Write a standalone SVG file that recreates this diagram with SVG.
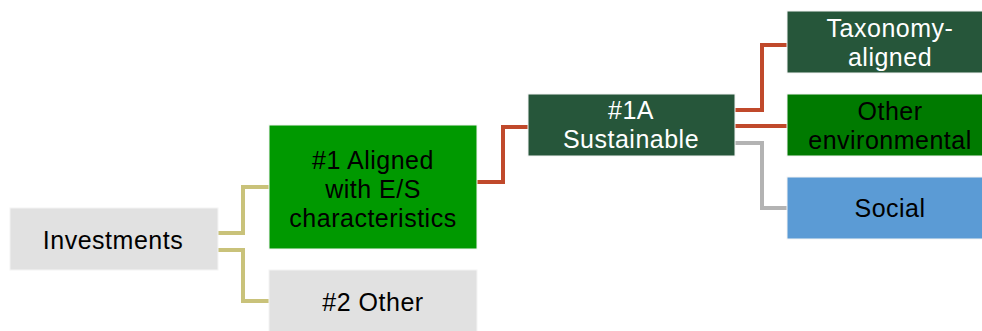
<svg xmlns="http://www.w3.org/2000/svg" width="982" height="331" viewBox="0 0 982 331">
<style>
.box{stroke:#f4f4f4;stroke-width:1}
text{font-family:"Liberation Sans",Arial,sans-serif;font-size:25px;letter-spacing:0.5px;text-anchor:middle}
.dark{fill:#ffffff}
.blk{fill:#000000}
.c{fill:none;stroke-width:4}
.k{stroke:#c9c27a}
.r{stroke:#c0492b}
.g{stroke:#b3b3b3}
</style>
<rect width="982" height="331" fill="#ffffff"/>
<g id="connectors">
<polyline class="c k" points="217,233 243,233 243,187 269,187"/>
<polyline class="c k" points="217,250 243,250 243,301 269,301"/>
<polyline class="c r" points="476,182 503,182 503,127 528,127"/>
<polyline class="c r" points="735,110 762,110 762,45 787,45"/>
<polyline class="c r" points="735,126 787,126"/>
<polyline class="c g" points="735,143 762,143 762,208 787,208"/>
</g>
<g id="investments">
<rect class="box" x="10" y="208" width="208" height="62" fill="#e1e1e1"/>
<text class="blk" x="113" y="249">Investments</text>
</g>
<g id="aligned">
<rect class="box" x="269" y="125" width="208" height="124" fill="#009900"/>
<text class="blk" x="373" y="169">#1 Aligned</text>
<text class="blk" x="373" y="198">with E/S</text>
<text class="blk" x="373" y="227">characteristics</text>
</g>
<g id="other">
<rect class="box" x="269" y="270" width="208" height="62" fill="#e1e1e1"/>
<text class="blk" x="373" y="311">#2 Other</text>
</g>
<g id="sustainable">
<rect class="box" x="528" y="94" width="207" height="62" fill="#26563a"/>
<text class="dark" x="631" y="119">#1A</text>
<text class="dark" x="631" y="148">Sustainable</text>
</g>
<g id="taxonomy">
<rect class="box" x="787" y="11" width="207" height="62" fill="#26563a"/>
<text class="dark" x="890" y="37">Taxonomy-</text>
<text class="dark" x="890" y="66">aligned</text>
</g>
<g id="otherenv">
<rect class="box" x="787" y="94" width="207" height="62" fill="#007a00"/>
<text class="blk" x="890" y="120">Other</text>
<text class="blk" x="890" y="149">environmental</text>
</g>
<g id="social">
<rect class="box" x="787" y="177" width="207" height="62" fill="#5b9bd5"/>
<text class="blk" x="890" y="217">Social</text>
</g>
</svg>
